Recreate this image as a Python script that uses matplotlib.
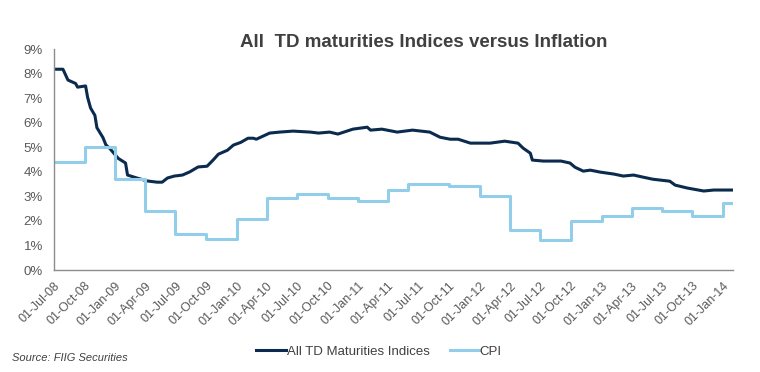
import pandas as pd
import matplotlib
matplotlib.use("Agg")
import matplotlib.pyplot as plt
import matplotlib.dates as mdates
from matplotlib.ticker import FuncFormatter

# --- DATA ---
td_dates = ["2008-07-01", "2008-07-28", "2008-08-12", "2008-09-04", "2008-09-10",
            "2008-10-04", "2008-10-10", "2008-10-19", "2008-11-01", "2008-11-07",
            "2008-11-25", "2008-12-04", "2008-12-16", "2009-01-10", "2009-02-01",
            "2009-02-07", "2009-03-07", "2009-04-07", "2009-05-07", "2009-05-22",
            "2009-06-07", "2009-06-28", "2009-07-22", "2009-08-13", "2009-09-07",
            "2009-10-04", "2009-10-22", "2009-11-07", "2009-12-04", "2009-12-22",
            "2010-01-13", "2010-02-04", "2010-02-20", "2010-03-01", "2010-04-10",
            "2010-05-10", "2010-06-19", "2010-08-10", "2010-09-04", "2010-10-07",
            "2010-11-01", "2010-12-16", "2011-01-28", "2011-02-07", "2011-03-13",
            "2011-04-28", "2011-06-13", "2011-08-04", "2011-09-04", "2011-10-04",
            "2011-10-28", "2011-12-04", "2012-02-01", "2012-03-16", "2012-04-25",
            "2012-05-10", "2012-06-01", "2012-06-07", "2012-07-10", "2012-09-01",
            "2012-09-28", "2012-10-13", "2012-11-07", "2012-11-28", "2012-12-28",
            "2013-02-07", "2013-03-07", "2013-04-07", "2013-05-04", "2013-06-04",
            "2013-07-25", "2013-08-10", "2013-09-16", "2013-11-04", "2013-12-04",
            "2014-02-01"]
td_values = [8.18, 8.18, 7.74, 7.60, 7.45, 7.50, 7.04, 6.60, 6.30, 5.80,
             5.40, 5.10, 4.95, 4.55, 4.36, 3.87, 3.75, 3.63, 3.58, 3.58,
             3.75, 3.83, 3.87, 4.00, 4.20, 4.23, 4.48, 4.72, 4.88, 5.09,
             5.20, 5.37, 5.37, 5.33, 5.58, 5.62, 5.66, 5.62, 5.58, 5.62,
             5.54, 5.74, 5.82, 5.70, 5.74, 5.62, 5.70, 5.62, 5.41, 5.33,
             5.33, 5.17, 5.17, 5.25, 5.17, 4.97, 4.76, 4.48, 4.44, 4.44,
             4.36, 4.19, 4.03, 4.07, 3.99, 3.91, 3.83, 3.87, 3.79, 3.70,
             3.62, 3.46, 3.34, 3.22, 3.26, 3.26]

cpi_dates = ["2008-07-01", "2008-10-01", "2009-01-01", "2009-04-01", "2009-07-01",
             "2009-10-01", "2010-01-01", "2010-04-01", "2010-07-01", "2010-10-01",
             "2011-01-01", "2011-04-01", "2011-06-01", "2011-10-01", "2012-01-01",
             "2012-04-01", "2012-07-01", "2012-10-01", "2013-01-01", "2013-04-01",
             "2013-07-01", "2013-10-01", "2014-01-01", "2014-02-01"]
cpi_values = [4.4, 5.0, 3.7, 2.4, 1.45, 1.25, 2.1, 2.93, 3.09, 2.93,
              2.81, 3.27, 3.49, 3.42, 3.01, 1.63, 1.22, 2.0, 2.2, 2.52,
              2.4, 2.2, 2.73, 2.73]

td_x = pd.to_datetime(td_dates)
cpi_x = pd.to_datetime(cpi_dates)

# --- PLOT ---
plt.rcParams['font.family'] = ['Liberation Sans', 'DejaVu Sans']
fig = plt.figure(figsize=(7.6, 3.72), dpi=100)
ax = fig.add_axes([0.071, 0.274, 0.894, 0.594])

ax.plot(td_x, td_values, color='#0b2b4e', linewidth=2.2, label='All TD Maturities Indices')
ax.step(cpi_x, cpi_values, where='post', color='#92cdea', linewidth=2.2, label='CPI')

ax.set_ylim(0, 9)
ax.set_yticks(range(0, 10))
ax.yaxis.set_major_formatter(FuncFormatter(lambda v, p: f"{int(v)}%"))
ax.set_xlim(pd.Timestamp("2008-07-01"), pd.Timestamp("2014-02-01"))
ax.xaxis.set_major_locator(mdates.MonthLocator(bymonth=[1, 4, 7, 10]))
ax.xaxis.set_major_formatter(mdates.DateFormatter('%d-%b-%y'))

for lbl in ax.get_xticklabels():
    lbl.set_rotation(45)
    lbl.set_ha('right')
    lbl.set_rotation_mode('anchor')

ax.tick_params(axis='both', length=0, colors='#595959')
ax.tick_params(axis='x', labelsize=9, pad=7)
ax.tick_params(axis='y', labelsize=9.5, pad=8)
for side in ['top', 'right']:
    ax.spines[side].set_visible(False)
for side in ['left', 'bottom']:
    ax.spines[side].set_color('#8c8c8c')
    ax.spines[side].set_linewidth(1.0)

fig.text(0.557, 0.874, "All  TD maturities Indices versus Inflation", ha='center',
         fontsize=13.5, fontweight='bold', color='#404040')
fig.text(0.016, 0.03, "Source: FIIG Securities", fontsize=8, style='italic', color='#404040')

fig.legend(loc='center', bbox_to_anchor=(0.499, 0.055), ncol=2, frameon=False,
           fontsize=9.5, handlelength=2.2, handletextpad=0.1, columnspacing=1.5,
           labelcolor='#404040')

fig.savefig("out.png", dpi=100)
